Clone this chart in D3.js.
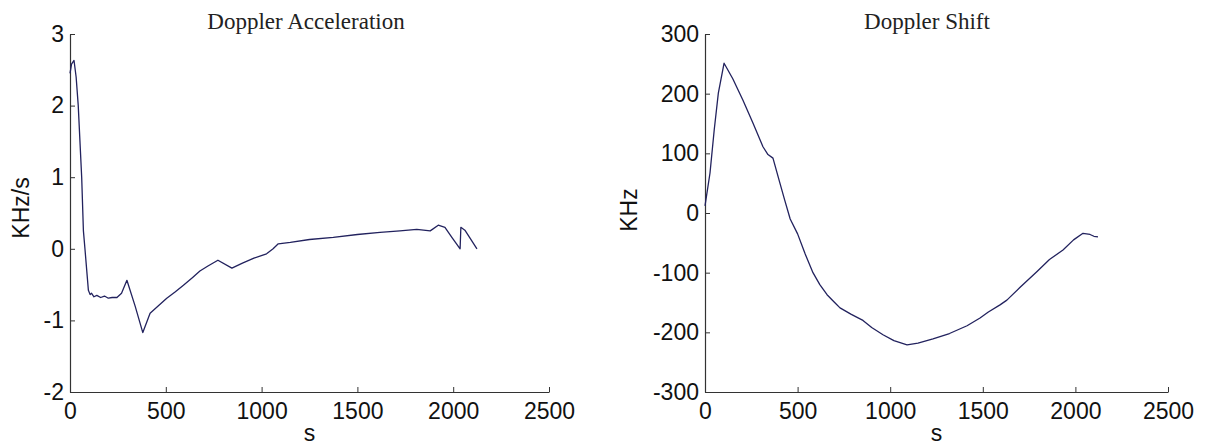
<!DOCTYPE html>
<html>
<head>
<meta charset="utf-8">
<script src="https://cdn.jsdelivr.net/npm/d3@7"></script>
<style>
  body { margin: 0; background: #fff; }
  .tick text { font-family: "Liberation Sans", Arial, sans-serif; font-size: 23px; fill: #111; }
  .axis path, .axis line { stroke: #333; }
  .axis_label { font-family: "Liberation Sans", Arial, sans-serif; font-size: 23px; fill: #111; }
  .chart_title { font-family: "Liberation Serif", "Times New Roman", serif; font-size: 23px; fill: #222; }
</style>
</head>
<body>
<div id="chart"></div>
<script>
// Doppler acceleration (KHz/s) against time (s)
var accelTime = [0, 8, 21, 32, 43, 61, 70, 78, 96, 105, 112, 125, 140, 160, 180, 200, 220, 245,
    269, 297, 340, 380, 418, 460, 505, 550, 592, 640, 678, 720, 772, 845, 900, 960, 1026, 1060,
    1087, 1150, 1250, 1374, 1500, 1618, 1722, 1810, 1880, 1922, 1957, 1993, 2036, 2040, 2061, 2124];
var accelValue = [2.45, 2.58, 2.63, 2.4, 2.0, 1.0, 0.25, 0.0, -0.58, -0.64, -0.62, -0.67, -0.65, -0.68, -0.66, -0.69, -0.68, -0.68,
    -0.62, -0.44, -0.8, -1.17, -0.9, -0.8, -0.69, -0.6, -0.51, -0.4, -0.31, -0.24, -0.16, -0.27, -0.2, -0.13, -0.07, 0.0,
    0.07, 0.09, 0.13, 0.16, 0.2, 0.23, 0.25, 0.27, 0.25, 0.33, 0.3, 0.16, 0.0, 0.3, 0.26, 0.0];

// Doppler shift (KHz) against time (s)
var shiftTime = [0, 27, 50, 72, 103, 150, 205, 260, 313, 340, 367, 400, 430, 460, 500, 540, 583, 620,
    659, 700, 729, 790, 853, 900, 961, 1020, 1091, 1150, 1231, 1320, 1415, 1485, 1530, 1593, 1630,
    1700, 1793, 1860, 1933, 1990, 2041, 2079, 2100, 2122];
var shiftValue = [12, 67, 140, 201, 251, 225, 189, 150, 111, 98, 92, 55, 22, -10, -35, -68, -100, -120,
    -137, -150, -159, -170, -180, -192, -204, -214, -221, -218, -211, -202, -189, -176, -166, -154, -146,
    -125, -98, -78, -62, -45, -34, -36, -39, -40];

// Tick labels
var timeTicks = [0, 500, 1000, 1500, 2000, 2500];
var accelTicks = [-2, -1, 0, 1, 2, 3];
var shiftTicks = [-300, -200, -100, 0, 100, 200, 300];

var svg = d3.select("#chart")
    .append("svg")
    .attr("width", 1205)
    .attr("height", 447);

// plain hyphen minus, like the original figure
var plain = d => String(d);

function drawPanel(p) {
    var x = d3.scaleLinear().domain([0, 2500]).range([p.left, p.right]);
    var y = d3.scaleLinear().domain(p.yDomain).range([392, 34]);

    // X axis, ticks pointing inward
    svg.append("g")
        .attr("class", "axis")
        .attr("transform", "translate(0,392)")
        .call(d3.axisBottom(x).tickValues(timeTicks).tickFormat(plain)
            .tickSizeInner(-5).tickSizeOuter(0).tickPadding(11));

    // Y axis
    svg.append("g")
        .attr("class", "axis")
        .attr("transform", "translate(" + p.left + ",0)")
        .call(d3.axisLeft(y).tickValues(p.yTicks).tickFormat(plain)
            .tickSizeInner(-5).tickSizeOuter(0).tickPadding(6));

    svg.selectAll(".axis .domain").attr("stroke-width", 1.2);

    // Curve
    var pts = p.time.map((t, i) => [t, p.value[i]]);
    svg.append("path")
        .datum(pts)
        .attr("fill", "none")
        .attr("stroke", "#22225e")
        .attr("stroke-width", 1.3)
        .attr("stroke-linejoin", "round")
        .attr("d", d3.line().x(d => x(d[0])).y(d => y(d[1])));

    // Labels
    svg.append("text")
        .attr("class", "chart_title")
        .attr("x", p.titleX)
        .attr("y", 29)
        .attr("text-anchor", "middle")
        .text(p.title);

    svg.append("text")
        .attr("class", "axis_label")
        .attr("x", x(1250))
        .attr("y", 441)
        .attr("text-anchor", "middle")
        .text("s");

    svg.append("text")
        .attr("class", "axis_label")
        .attr("transform", "translate(" + p.yLabelX + "," + p.yLabelY + ") rotate(-90)")
        .attr("text-anchor", "middle")
        .text(p.yLabel);
}

drawPanel({
    left: 70, right: 549, yDomain: [-2, 3], yTicks: accelTicks,
    time: accelTime, value: accelValue,
    title: "Doppler Acceleration", titleX: 306,
    yLabel: "KHz/s", yLabelX: 29, yLabelY: 208
});

drawPanel({
    left: 705, right: 1168, yDomain: [-300, 300], yTicks: shiftTicks,
    time: shiftTime, value: shiftValue,
    title: "Doppler Shift", titleX: 927,
    yLabel: "KHz", yLabelX: 637, yLabelY: 210
});
</script>
</body>
</html>
